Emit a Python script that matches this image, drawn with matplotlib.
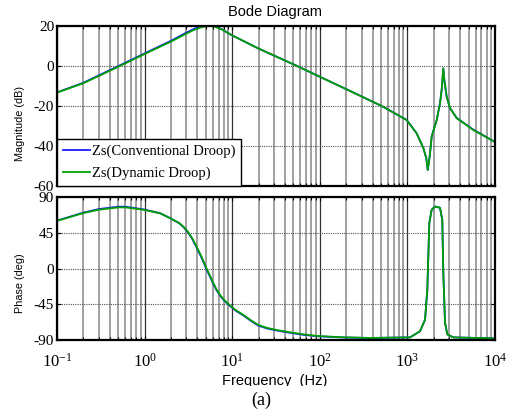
import matplotlib
matplotlib.use("Agg")
import matplotlib.pyplot as plt
from matplotlib.ticker import LogLocator, NullFormatter, FixedLocator
from matplotlib.patches import Rectangle

# ---------------- data ----------------
mag_freq = [0.1, 0.2, 0.3, 0.55, 1.0, 2.0, 3.0, 3.77, 4.4, 4.9, 5.6, 6.3, 7.6, 9.8,
            19.8, 52, 96, 192, 509, 981, 1277, 1520, 1640, 1706, 1760, 1813,
            1893, 1960, 2161, 2355, 2460, 2570, 2640, 2806, 3060, 3650, 5650, 10000]
mag_dyn = [-13.3, -8.6, -5.0, 0.5, 6.0, 12.2, 16.2, 18.3, 19.3, 19.8, 20.0, 19.7, 18.3, 15.5,
           8.8, 0.5, -5.0, -11.2, -20.0, -27.0, -33.7, -41.0, -46.0, -52.0, -48.0, -43.7,
           -35.3, -33.0, -27.0, -18.7, -12.0, -1.2, -7.0, -15.3, -21.0, -26.0, -32.0, -38.0]
mag_conv = [-13.2, -8.4, -4.7, 0.8, 6.3, 12.6, 16.7, 18.8, 19.8, 20.3, 20.3, 19.9, 18.4, 15.5,
            8.8, 0.5, -5.0, -11.2, -20.0, -27.0, -33.7, -41.0, -46.0, -52.0, -48.0, -43.7,
            -35.3, -33.0, -27.0, -18.7, -12.0, -1.2, -7.0, -15.3, -21.0, -26.0, -31.8, -38.0]

ph_freq = [0.1, 0.2, 0.3, 0.5, 0.6, 0.97, 1.5, 1.95, 2.5, 2.75, 3.0, 3.15, 3.5, 3.9, 4.5,
           5.1, 5.6, 6.0, 6.6, 7.3, 8.0, 9.0, 11.0, 13.4, 16, 19.8, 25, 35, 48, 64, 96, 186,
           374, 1072, 1393, 1589, 1688, 1779, 1893, 2065, 2355, 2500, 2570, 2686, 2856,
           3345, 10000]
ph_dyn = [60.0, 69.8, 74.0, 76.9, 77.0, 74.0, 69.5, 63.5, 57.0, 53.0, 48.5, 45.5, 38.0, 28.0, 14.0,
          0.0, -9.5, -17.0, -26.0, -33.5, -39.0, -44.5, -52.5, -58.4, -64.5, -71.0, -74.8, -78.2,
          -80.6, -82.8, -85.0, -86.6,
          -87.4, -86.7, -79.0, -64.5, -27.0, 57.5, 74.0, 78.0, 76.5, 61.5, -5.0, -68.0, -83.0,
          -86.7, -88.0]
ph_conv = [60.3, 70.3, 74.8, 77.8, 77.8, 74.4, 69.6, 63.5, 56.8, 52.6, 48.0, 44.9, 37.2, 27.0, 12.8,
           -1.2, -10.6, -18.0, -27.0, -34.3, -39.7, -45.2, -53.2, -59.0, -65.2, -71.8, -75.5, -78.8,
           -81.3, -83.4, -85.4, -86.8,
           -87.5, -86.7, -79.0, -64.5, -27.0, 57.5, 74.0, 78.0, 76.5, 61.5, -5.0, -68.0, -83.0,
           -86.7, -88.0]

mag_ticks = [-60, -40, -20, 0, 20]
ph_ticks = [-90, -45, 0, 45, 90]
x_ticks = [0.1, 1, 10, 100, 1000, 10000]
x_tick_labels = [r"$10^{-1}$", r"$10^{0}$", r"$10^{1}$", r"$10^{2}$", r"$10^{3}$", r"$10^{4}$"]
legend_labels = ["Zs(Conventional Droop)", "Zs(Dynamic Droop)"]

# ---------------- style ----------------
plt.rcParams["mathtext.fontset"] = "custom"
plt.rcParams["mathtext.rm"] = "Liberation Serif"
plt.rcParams["mathtext.it"] = "Liberation Serif:italic"
serif = "Liberation Serif"
sans = "Liberation Sans"

W, H = 518, 418
fig = plt.figure(figsize=(W / 100, H / 100), dpi=100)

def box(l, t, r, b):
    return [l / W, 1 - b / H, (r - l) / W, (b - t) / H]

ax1 = fig.add_axes(box(57, 26, 495, 186))
ax2 = fig.add_axes(box(57, 197, 495, 340))

blue = "#1a1aff"
green = "#00a000"

ax1.plot(mag_freq, mag_conv, color=blue, lw=1.3, label=legend_labels[0])
ax1.plot(mag_freq, mag_dyn, color=green, lw=1.3, label=legend_labels[1])
ax2.plot(ph_freq, ph_conv, color=blue, lw=1.3)
ax2.plot(ph_freq, ph_dyn, color=green, lw=1.3)

for ax, yt, ylim in ((ax1, mag_ticks, (-60, 20)), (ax2, ph_ticks, (-90, 90))):
    ax.set_xscale("log")
    ax.set_xlim(0.1, 10000)
    ax.set_ylim(*ylim)
    ax.set_yticks(yt)
    ax.set_yticklabels([str(v) for v in yt], fontfamily=serif, fontsize=11)
    ax.xaxis.set_major_locator(FixedLocator(x_ticks))
    ax.xaxis.set_minor_locator(LogLocator(base=10, subs=range(2, 10), numticks=20))
    ax.xaxis.set_minor_formatter(NullFormatter())
    ax.grid(True, which="minor", axis="x", color="#9a9a9a", lw=1.3, ls="-")
    ax.grid(True, which="major", axis="x", color="#333333", lw=0.9, ls="-")
    ax.grid(True, which="major", axis="y", color="#555555", lw=0.8, ls=(0, (1, 1)))
    ax.set_axisbelow(True)
    ax.tick_params(which="both", direction="in", top=True, right=True,
                   length=3, width=0.8, pad=2)
    ax.tick_params(which="minor", length=2)
    for s in ax.spines.values():
        s.set_linewidth(1.6)
        s.set_color("black")

ax1.set_xticklabels([])
ax2.set_xticklabels(x_tick_labels, fontsize=12)
ax2.tick_params(axis="x", which="major", pad=9)

ax1.set_ylabel("Magnitude (dB)", fontfamily=sans, fontsize=7.8)
ax2.set_ylabel("Phase (deg)", fontfamily=sans, fontsize=7.8)
ax1.yaxis.set_label_coords(-0.073, 0.39)
ax2.yaxis.set_label_coords(-0.073, 0.40)

fig.text(275 / W, 1 - 12 / H, "Bode Diagram", ha="center", va="center",
         fontfamily=sans, fontsize=10.5)

leg = ax1.legend(loc="lower left", bbox_to_anchor=(0, 0), borderaxespad=0,
                 fancybox=False, edgecolor="black", framealpha=1,
                 prop={"family": serif, "size": 10.5}, handlelength=1.9,
                 handletextpad=0.15, borderpad=0.38, labelspacing=0.62)
leg.get_frame().set_linewidth(1.0)

fig.text(275 / W, 1 - 381 / H, "Frequency  (Hz)", ha="center", va="center",
         fontfamily=sans, fontsize=10.5)
fig.patches.append(Rectangle((200 / W, 1 - 395 / H), 150 / W, 9 / H,
                   transform=fig.transFigure, facecolor="white", edgecolor="none", zorder=5))
fig.text(261 / W, 1 - 400 / H, "(a)", ha="center", va="center",
         fontfamily=serif, fontsize=13, zorder=6)

fig.savefig("out.png", dpi=100)
